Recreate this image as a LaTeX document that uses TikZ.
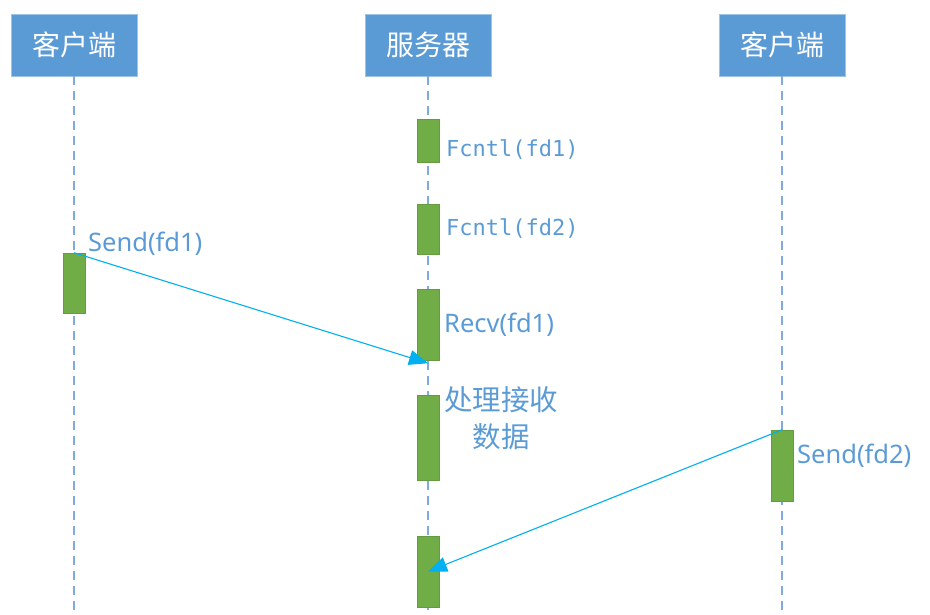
\documentclass[tikz,border=0pt]{standalone}
\usepackage{fontspec}
\setmainfont{Noto Sans}
\newfontfamily\cjk{Noto Sans CJK SC}
\newfontfamily\mono{DejaVu Sans Mono}
\usepackage{tikz}
\usetikzlibrary{positioning,arrows.meta,calc}
\definecolor{seqblue}{HTML}{5B9BD5}
\definecolor{seqgreen}{HTML}{70AD47}
\definecolor{seqcyan}{HTML}{00B0F0}
\definecolor{seqline}{HTML}{7FAADB}

\begin{document}
\begin{tikzpicture}[x=1pt,y=-1pt,
		head/.style={fill=seqblue, draw=seqblue!60, line width=0.6pt, text=white,
			minimum width=126pt, minimum height=62pt, inner sep=0pt,
			font=\cjk\fontsize{28}{32}\selectfont},
		act/.style={fill=seqgreen, draw=seqgreen!90!black, line width=0.5pt,
			minimum width=22pt, inner sep=0pt},
		lifeline/.style={draw=seqline, line width=1.4pt, dash pattern=on 9pt off 6pt},
		msg/.style={draw=seqcyan, line width=1.1pt, -{Triangle[length=19pt,width=15pt]}},
		call/.style={text=seqblue, anchor=west, inner sep=0pt, font=\mono\fontsize{22}{26}\selectfont},
		label/.style={text=seqblue, anchor=west, inner sep=0pt, font=\fontsize{25.5}{30}\selectfont}
		]
				\useasboundingbox (0,0) rectangle (930,614);
				\coordinate (bottom) at (0,614);
				
				% heads
				\node[head] (cli1) at (74,45) {客户端};
				\node[head] (srv) at (428,45) {服务器};
				\node[head] (cli2) at (782,45) {客户端};
				
				% lifelines
				\foreach \h in {cli1,srv,cli2}
				\draw[lifeline] (\h.south) -- (\h.south |- bottom);
				
				% activations on the server
				\node[act, minimum height=43pt] (fcntl1) at (428,140.5) {};
				\node[act, minimum height=50pt] (fcntl2) at (428,229) {};
				\node[act, minimum height=71pt] (recv) at (428,324.5) {};
				\node[act, minimum height=85pt] (work) at (428,437.5) {};
				\node[act, minimum height=71pt] (recv2) at (428,571.5) {};
				% activations on the clients
				\node[act, minimum height=60pt] (send1) at (74,283) {};
				\node[act, minimum height=71pt] (send2) at (782,465.5) {};
				
				% texts
				\node[call] at (446,150) {Fcntl(fd1)};
				\node[call] at (446,229) {Fcntl(fd2)};
				\node[label] at (444,325) {Recv(fd1)};
				\node[label] at (88,244) {Send(fd1)};
				\node[label] at (797,456) {Send(fd2)};
				\node[text=seqblue, align=center, inner sep=0pt,
				font=\cjk\fontsize{28.5}{37}\selectfont] at (501,418) {处理接收\\数据};
				
				% messages
				\draw[msg] (send1.north) -- ([yshift=-3pt]recv.south);
				\draw[msg] (send2.north) -- (recv2.center);
			\end{tikzpicture}
\end{document}
